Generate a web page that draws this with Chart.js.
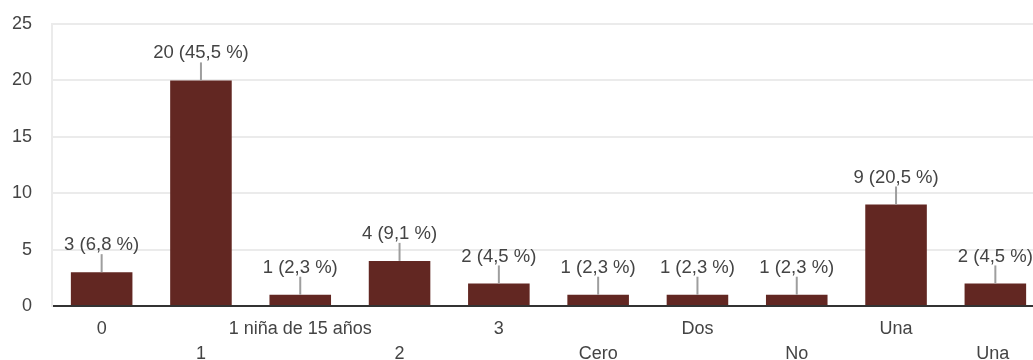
<!DOCTYPE html>
<html>
<head>
<meta charset="utf-8">
<script src="https://cdn.jsdelivr.net/npm/chart.js@4"></script>
<style>
  html, body { margin: 0; padding: 0; background: #fff; overflow: hidden; }
  #wrap { width: 1060px; height: 364px; position: relative; }
</style>
</head>
<body>
<div id="wrap"><canvas id="myChart"></canvas></div>
<script>
const categories = ['0', '1', '1 niña de 15 años', '2', '3', 'Cero', 'Dos', 'No', 'Una', 'Una '];
const values = [3, 20, 1, 4, 2, 1, 1, 1, 9, 2];
const yTicks = [0, 5, 10, 15, 20, 25];

const BAR_COLOR = '#622722';
const TEXT_COLOR = '#444444';
const FONT = 'Liberation Sans, Arial, sans-serif';

const total = values.reduce((a, b) => a + b, 0);

// etiquetas encima das barras com linha guia
const valueLabels = {
    id: 'valueLabels',
    afterDatasetsDraw(chart) {
        const ctx = chart.ctx;
        const meta = chart.getDatasetMeta(0);
        ctx.save();
        meta.data.forEach((bar, i) => {
            const v = values[i];
            const pct = (v / total * 100).toFixed(1).replace('.', ',');
            ctx.strokeStyle = '#9e9e9e';
            ctx.lineWidth = 2;
            ctx.beginPath();
            ctx.moveTo(bar.x, bar.y);
            ctx.lineTo(bar.x, bar.y - 18);
            ctx.stroke();
            ctx.fillStyle = TEXT_COLOR;
            ctx.font = '18.5px ' + FONT;
            ctx.textAlign = 'center';
            ctx.textBaseline = 'middle';
            ctx.fillText(v + ' (' + pct + ' %)', bar.x, bar.y - 27);
        });
        ctx.restore();
    }
};

const ctx = document.getElementById('myChart');
const chart = new Chart(ctx, {
    type: 'bar',
    data: {
        labels: categories,
        datasets: [{
            data: values,
            backgroundColor: BAR_COLOR,
            borderWidth: 0,
            barPercentage: 0.62,
            categoryPercentage: 1
        }]
    },
    options: {
        responsive: true,
        maintainAspectRatio: false,
        animation: false,
        layout: { padding: { top: 24, right: 15, left: 12, bottom: 0 } },
        plugins: {
            legend: { display: false },
            tooltip: { enabled: false }
        },
        scales: {
            x: {
                grid: { display: false },
                border: { display: true, color: '#333333', width: 2 },
                afterFit: function(axis) { axis.height = 58; axis.paddingLeft = 0; axis.paddingRight = 0; },
                ticks: {
                    autoSkip: false,
                    maxRotation: 0,
                    minRotation: 0,
                    color: TEXT_COLOR,
                    font: { size: 18, family: FONT, lineHeight: 1.4 },
                    padding: 2,
                    callback: function(val, i) {
                        return i % 2 === 0 ? categories[i] : ['', categories[i]];
                    }
                }
            },
            y: {
                min: 0,
                max: 25,
                afterBuildTicks: function(axis) {
                    axis.ticks = yTicks.map(v => ({ value: v }));
                },
                afterFit: function(axis) { axis.width = 40; axis.paddingTop = 0; axis.paddingBottom = 0; },
                grid: { color: '#ebebeb', lineWidth: 2, drawTicks: false },
                border: { display: true, color: '#ebebeb', width: 2 },
                ticks: {
                    color: TEXT_COLOR,
                    font: { size: 18, family: FONT },
                    padding: 20
                }
            }
        }
    },
    plugins: [valueLabels]
});
</script>
</body>
</html>
